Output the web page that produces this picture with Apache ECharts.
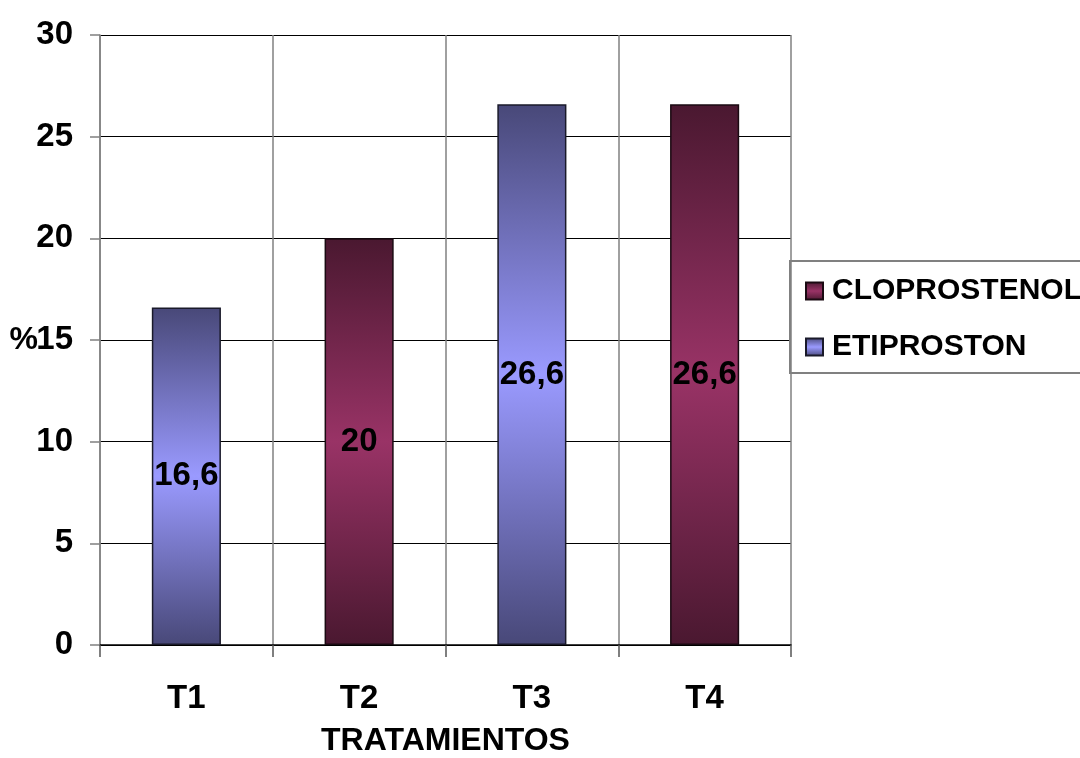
<!DOCTYPE html>
<html><head><meta charset="utf-8">
<script src="https://cdn.jsdelivr.net/npm/echarts@6/dist/echarts.min.js"></script>
<style>html,body{margin:0;padding:0;background:#fff}#c{width:1080px;height:758px}</style>
</head><body><div id="c"></div>
<script>
var categories = ['T1', 'T2', 'T3', 'T4'];
var etiproston = [16.6, null, 26.6, null];
var cloprostenol = [null, 20, null, 26.6];
var yTicks = [0, 5, 10, 15, 20, 25, 30];

var FONT = '"Liberation Sans", Arial, sans-serif';
function grad(dark, light) {
  return new echarts.graphic.LinearGradient(0, 0, 0, 1, [
    {offset: 0, color: dark}, {offset: 0.5, color: light}, {offset: 1, color: dark}
  ]);
}
var chart = echarts.init(document.getElementById('c'));
var lbl = {
  show: true, position: 'inside', color: '#000', fontFamily: FONT, fontWeight: 'bold', fontSize: 33,
  formatter: function (p) { return String(p.value).replace('.', ','); }
};
chart.setOption({
  animation: false,
  grid: {left: 100, right: 289, top: 35, bottom: 113, containLabel: false, outerBoundsMode: 'none'},
  legend: {
    left: 790, top: 261, orient: 'vertical',
    data: ['CLOPROSTENOL', 'ETIPROSTON'],
    borderColor: '#808080', borderWidth: 2,
    padding: [13, 20, 9, 15],
    itemWidth: 17, itemHeight: 17, itemGap: 22,
    icon: 'rect',
    textStyle: {fontFamily: FONT, fontWeight: 'bold', fontSize: 30, color: '#000', lineHeight: 34, padding: [0, 0, 0, 4]}
  },
  xAxis: {
    type: 'category', data: categories,
    name: 'TRATAMIENTOS', nameLocation: 'middle', nameGap: 80, nameMoveOverlap: false,
    nameTextStyle: {fontFamily: FONT, fontWeight: 'bold', fontSize: 32, color: '#000'},
    axisLine: {lineStyle: {color: '#000', width: 1.5}},
    axisTick: {show: true, length: 12, interval: 0, lineStyle: {color: '#555', width: 1.5}},
    axisLabel: {margin: 37, fontFamily: FONT, fontWeight: 'bold', fontSize: 33, color: '#000'},
    splitLine: {show: true, interval: 0, lineStyle: {color: '#808080', width: 1.5}}
  },
  yAxis: {
    type: 'value', min: 0, max: 30, interval: 5,
    name: '%', nameLocation: 'middle', nameGap: 62, nameRotate: 0, nameMoveOverlap: false,
    nameTextStyle: {fontFamily: FONT, fontWeight: 'bold', fontSize: 32, color: '#000'},
    axisLine: {show: true, lineStyle: {color: '#808080', width: 1.5}},
    axisTick: {show: true, length: 10, lineStyle: {color: '#808080', width: 1.5}},
    axisLabel: {margin: 27, fontFamily: FONT, fontWeight: 'bold', fontSize: 33, color: '#000',
      formatter: function (v) { return yTicks.indexOf(v) >= 0 ? String(v) : ''; }},
    splitLine: {show: true, lineStyle: {color: '#000', width: 1.2}}
  },
  series: [
    {name: 'ETIPROSTON', type: 'bar', stack: 's', data: etiproston, barWidth: '40%',
     itemStyle: {color: grad('#484878', '#9a9aff'), borderColor: '#1a1a2a', borderWidth: 1.5},
     label: lbl},
    {name: 'CLOPROSTENOL', type: 'bar', stack: 's', data: cloprostenol, barWidth: '40%',
     itemStyle: {color: grad('#4a1830', '#993366'), borderColor: '#1a0a12', borderWidth: 1.5},
     label: lbl}
  ]
});
</script></body></html>
